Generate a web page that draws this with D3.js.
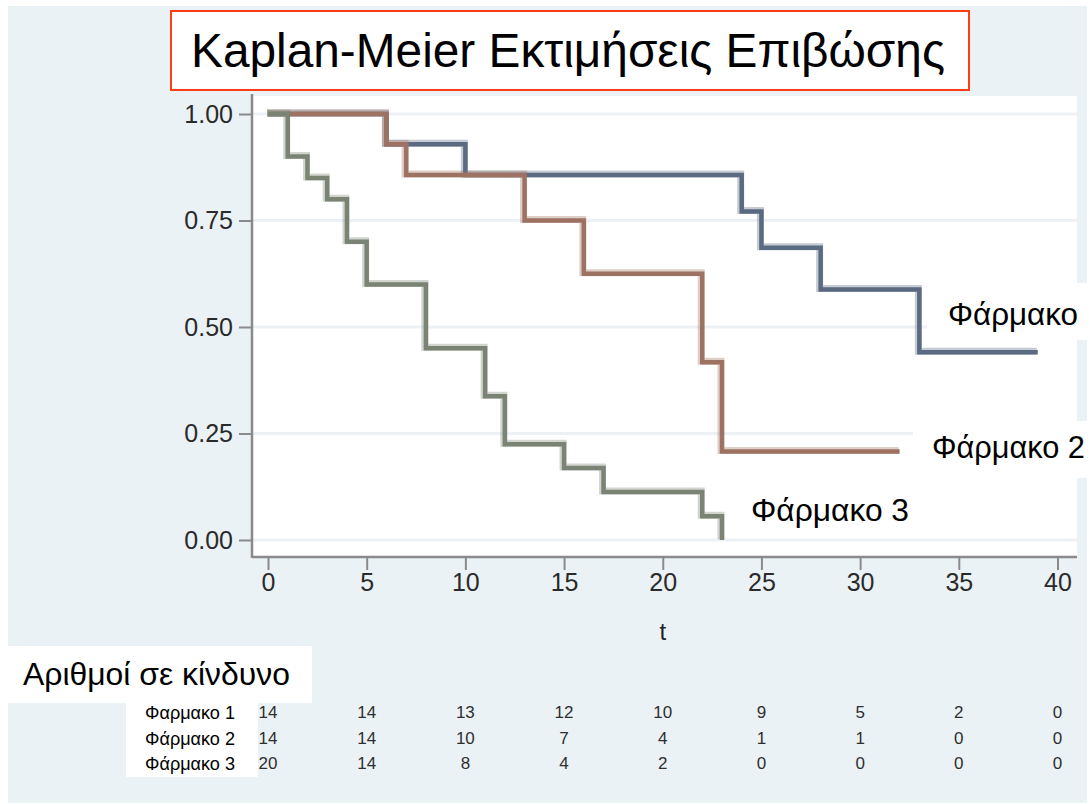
<!DOCTYPE html>
<html>
<head>
<meta charset="utf-8">
<script src="https://cdn.jsdelivr.net/npm/d3@7"></script>
<style>
  html, body { margin: 0; padding: 0; background: #ffffff; }
  svg { display: block; font-family: "Liberation Sans", Arial, sans-serif; }
</style>
</head>
<body>
<svg id="chart" width="1090" height="804"></svg>
<script>
// Kaplan-Meier survival estimates for three drugs
const drugNames = ["Φάρμακο", "Φάρμακο 2", "Φάρμακο 3"];
const riskRowNames = ["Φαρμακο 1", "Φάρμακο 2", "Φάρμακο 3"];

// step times and survival probabilities (last point closes the curve)
const drug1Times = [0, 6, 10, 24, 25, 28, 33, 39];
const drug1Surv  = [1, 0.929, 0.857, 0.771, 0.686, 0.588, 0.441, 0.441];
const drug2Times = [0, 6, 7, 13, 16, 22, 23, 32];
const drug2Surv  = [1, 0.929, 0.857, 0.75, 0.625, 0.417, 0.208, 0.208];
const drug3Times = [0, 1, 2, 3, 4, 5, 8, 11, 12, 15, 17, 22, 23];
const drug3Surv  = [1, 0.90, 0.85, 0.80, 0.70, 0.60, 0.45, 0.3375, 0.225, 0.169, 0.1125, 0.056, 0];

// numbers at risk
const riskTimes = [0, 5, 10, 15, 20, 25, 30, 35, 40];
const risk1 = [14, 14, 13, 12, 10, 9, 5, 2, 0];
const risk2 = [14, 14, 10, 7, 4, 1, 1, 0, 0];
const risk3 = [20, 14, 8, 4, 2, 0, 0, 0, 0];

const yTicks = [0, 0.25, 0.5, 0.75, 1];
const xTicks = [0, 5, 10, 15, 20, 25, 30, 35, 40];

const colors = ["#5a6a81", "#9d7262", "#7b8375"];

const svg = d3.select("#chart");

// scale a text's font size so that it spans the given width
function fitWidth(sel, width) {
  const node = sel.node();
  const size = parseFloat(sel.style("font-size"));
  const len = node.getComputedTextLength();
  if (len > 0) sel.style("font-size", (size * width / len).toFixed(2) + "px");
  return sel;
}

// page background
svg.append("rect").attr("x", 8).attr("y", 6).attr("width", 1079).attr("height", 797)
  .attr("fill", "#eaf2f5");

// plot region
const plot = { left: 252, right: 1077, top: 96, bottom: 557 };
svg.append("rect").attr("x", plot.left).attr("y", plot.top)
  .attr("width", plot.right - plot.left).attr("height", plot.bottom - plot.top)
  .attr("fill", "#ffffff");

const x = d3.scaleLinear().domain([0, 40]).range([268, 1057.5]);
const y = d3.scaleLinear().domain([0, 1]).range([540, 114]);

// horizontal grid
svg.append("g").selectAll("line").data(yTicks).join("line")
  .attr("x1", plot.left).attr("x2", plot.right)
  .attr("y1", d => y(d)).attr("y2", d => y(d))
  .attr("stroke", "#edf1f5").attr("stroke-width", 3);

// axes
const yAxis = svg.append("g").attr("transform", `translate(${plot.left},0)`)
  .call(d3.axisLeft(y).tickValues(yTicks).tickFormat(d3.format(".2f")).tickSize(13).tickPadding(6));
const xAxis = svg.append("g").attr("transform", `translate(0,${plot.bottom})`)
  .call(d3.axisBottom(x).tickValues(xTicks).tickFormat(d3.format("d")).tickSize(13).tickPadding(3));
[yAxis, xAxis].forEach(g => {
  g.select(".domain").remove();
  g.selectAll(".tick line").attr("stroke", "#8a8a8a").attr("stroke-width", 2);
  g.selectAll(".tick text").attr("fill", "#2a2a2a").style("font-size", "25px")
    .style("font-family", "'Liberation Sans', Arial, sans-serif");
});

// axis lines
svg.append("line").attr("x1", plot.left).attr("x2", plot.left)
  .attr("y1", plot.top - 2).attr("y2", plot.bottom + 1)
  .attr("stroke", "#8a8a8a").attr("stroke-width", 2.5);
svg.append("line").attr("x1", plot.left).attr("x2", plot.right)
  .attr("y1", plot.bottom).attr("y2", plot.bottom)
  .attr("stroke", "#8a8a8a").attr("stroke-width", 2.5);

svg.append("text").attr("x", x(20)).attr("y", 640).attr("text-anchor", "middle")
  .style("font-size", "24px").attr("fill", "#222").text("t");

// survival curves
const series = [
  drug1Times.map((t, i) => [t, drug1Surv[i]]),
  drug2Times.map((t, i) => [t, drug2Surv[i]]),
  drug3Times.map((t, i) => [t, drug3Surv[i]])
];
const line = d3.line().x(d => x(d[0])).y(d => y(d[1])).curve(d3.curveStepAfter);
const curves = svg.append("g");
series.forEach((s, i) => {
  curves.append("path").attr("d", line(s)).attr("fill", "none")
    .attr("stroke", colors[i]).attr("stroke-opacity", 0.35).attr("stroke-width", 7)
    .attr("transform", "translate(-1,-1)");
  curves.append("path").attr("d", line(s)).attr("fill", "none")
    .attr("stroke", colors[i]).attr("stroke-width", 4.5);
});

// curve labels
const labelBoxes = [
  { x: 927, y: 283, w: 163, h: 57 },
  { x: 913, y: 421, w: 177, h: 57 },
  { x: 742, y: 485, w: 180, h: 48 }
];
const labelPos = [[948, 325], [932, 458], [751, 521]];
const labelWidths = [130, 153, 158];
labelBoxes.forEach((b, i) => {
  svg.append("rect").attr("x", b.x).attr("y", b.y).attr("width", b.w).attr("height", b.h)
    .attr("fill", "#ffffff");
  const t = svg.append("text").attr("x", labelPos[i][0]).attr("y", labelPos[i][1])
    .style("font-size", "30px").attr("fill", "#000").text(drugNames[i]);
  fitWidth(t, labelWidths[i]);
});

// title
svg.append("rect").attr("x", 171).attr("y", 11).attr("width", 798).attr("height", 79)
  .attr("fill", "#ffffff").attr("stroke", "#ff3d14").attr("stroke-width", 2);
const title = svg.append("text").attr("x", 568).attr("y", 67).attr("text-anchor", "middle")
  .style("font-size", "47px").attr("fill", "#000").text("Kaplan-Meier Εκτιμήσεις Επιβώσης");
fitWidth(title, 754);

// numbers at risk table
svg.append("rect").attr("x", 7).attr("y", 646).attr("width", 305).attr("height", 57).attr("fill", "#ffffff");
const riskTitle = svg.append("text").attr("x", 23).attr("y", 685).style("font-size", "30px")
  .attr("fill", "#000").text("Αριθμοί σε κίνδυνο");
fitWidth(riskTitle, 267);
svg.append("rect").attr("x", 126).attr("y", 703).attr("width", 132).attr("height", 74).attr("fill", "#ffffff");

const rowBase = [719, 744.5, 769.5];
const riskRows = [risk1, risk2, risk3];
riskRowNames.forEach((n, i) => {
  const t = svg.append("text").attr("x", 145).attr("y", rowBase[i]).style("font-size", "18px")
    .attr("fill", "#000").text(n);
  fitWidth(t, 90);
});
riskRows.forEach((row, i) => {
  svg.append("g").selectAll("text").data(row).join("text")
    .attr("x", (d, j) => x(riskTimes[j])).attr("y", rowBase[i] - 1)
    .attr("text-anchor", "middle").style("font-size", "17px").attr("fill", "#2f2f2f")
    .text(d => d);
});
</script>
</body>
</html>
